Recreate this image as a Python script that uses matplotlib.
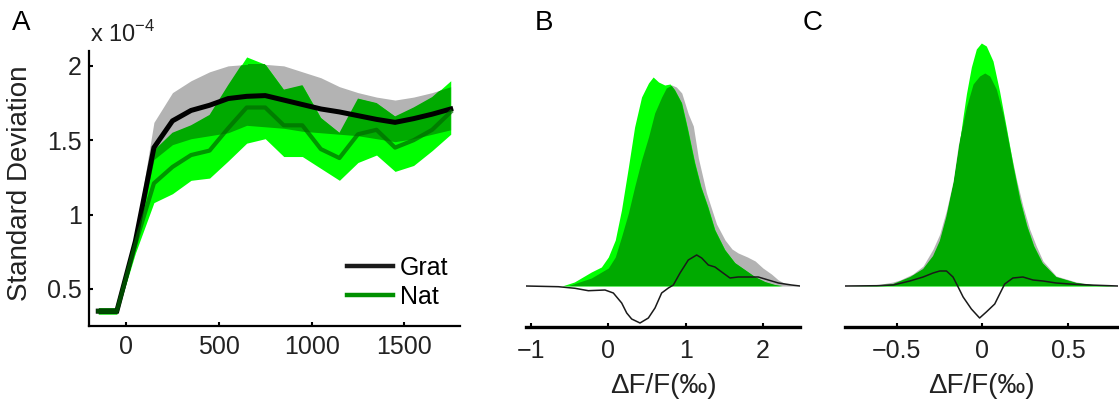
import matplotlib
matplotlib.use("Agg")
import matplotlib.pyplot as plt
import numpy as np
from matplotlib.lines import Line2D

plt.rcParams['font.family'] = ['Liberation Sans', 'DejaVu Sans']

# ---- panel A: standard deviation over time (x 1e-4)
t = [-150, -50, 50, 150, 250, 350, 450, 550, 650, 750, 850, 950, 1050, 1150, 1250, 1350, 1450, 1550, 1650, 1750]
grat_mean = [0.35, 0.35, 0.82, 1.45, 1.63, 1.70, 1.735, 1.78, 1.795, 1.80, 1.77, 1.74, 1.71, 1.69, 1.665, 1.64, 1.62, 1.645, 1.675, 1.71]
grat_hi = [0.37, 0.37, 0.86, 1.62, 1.82, 1.90, 1.96, 2.00, 2.01, 2.01, 2.00, 1.96, 1.92, 1.86, 1.82, 1.79, 1.77, 1.79, 1.82, 1.86]
grat_lo = [0.33, 0.33, 0.78, 1.37, 1.47, 1.51, 1.53, 1.55, 1.60, 1.59, 1.58, 1.56, 1.55, 1.54, 1.53, 1.51, 1.49, 1.51, 1.54, 1.57]
nat_mean = [0.35, 0.35, 0.80, 1.21, 1.32, 1.40, 1.43, 1.58, 1.72, 1.72, 1.60, 1.60, 1.44, 1.38, 1.54, 1.57, 1.45, 1.50, 1.57, 1.69]
nat_hi = [0.37, 0.37, 0.84, 1.43, 1.55, 1.60, 1.67, 1.87, 2.06, 2.01, 1.84, 1.87, 1.65, 1.55, 1.78, 1.75, 1.66, 1.72, 1.79, 1.90]
nat_lo = [0.33, 0.33, 0.74, 1.08, 1.14, 1.23, 1.245, 1.36, 1.48, 1.51, 1.39, 1.39, 1.31, 1.23, 1.35, 1.40, 1.29, 1.33, 1.43, 1.54]

# ---- panel B distributions
grat_b_x = [-1.065, -0.53, -0.22, 0.0, 0.09, 0.17, 0.26, 0.34, 0.43, 0.52, 0.60, 0.69, 0.75, 0.82, 0.88, 0.95, 1.035, 1.10, 1.165, 1.27, 1.40, 1.51, 1.60, 1.68, 1.80, 1.90, 2.00, 2.11, 2.20, 2.30, 2.40, 2.48]
grat_b_y = [0, 0, 8, 18, 29, 49, 73, 99, 126, 149, 173, 189, 198, 201, 199, 193, 172, 160, 128, 93, 62, 46, 37, 33, 29, 25, 18, 12, 6, 2, 0.5, 0]
nat_b_x = [-1.065, -0.60, -0.44, -0.22, -0.09, 0.0, 0.09, 0.17, 0.26, 0.34, 0.43, 0.52, 0.58, 0.65, 0.73, 0.80, 0.86, 0.95, 1.03, 1.12, 1.20, 1.29, 1.38, 1.51, 1.64, 1.77, 1.90, 2.03, 2.16, 2.25, 2.48]
nat_b_y = [0, 0, 4, 14, 19, 29, 46, 76, 119, 159, 189, 203, 209, 204, 201, 202, 196, 183, 156, 123, 99, 79, 56, 36, 23, 16, 9, 4, 1, 0, 0]
diff_b_x = [-1.065, -0.646, -0.431, -0.258, -0.043, 0.065, 0.173, 0.238, 0.302, 0.41, 0.518, 0.604, 0.69, 0.777, 0.841, 0.928, 1.035, 1.143, 1.208, 1.294, 1.38, 1.467, 1.574, 1.68, 1.811, 1.94, 2.07, 2.20, 2.37, 2.48]
diff_b_y = [0, -0.7, -2.3, -4.7, -4, -7, -17, -27, -33, -37, -32, -22, -7, -2, 1, 13, 26, 31, 28, 21, 19, 14, 8, 9, 9, 9, 6, 3, 1, 0]

# ---- panel C distributions
grat_c_x = [-0.8, -0.62, -0.52, -0.48, -0.405, -0.345, -0.287, -0.248, -0.21, -0.17, -0.141, -0.093, -0.054, -0.016, 0.014, 0.043, 0.081, 0.12, 0.159, 0.198, 0.236, 0.275, 0.314, 0.353, 0.43, 0.547, 0.663, 0.79]
grat_c_y = [0, 1, 4, 6, 12, 20, 37, 52, 75, 105, 140, 179, 202, 210, 213, 210, 197, 172, 139, 107, 80, 57, 40, 25, 10, 4, 1, 0]
nat_c_x = [-0.8, -0.62, -0.52, -0.42, -0.345, -0.287, -0.248, -0.21, -0.17, -0.14, -0.112, -0.093, -0.064, -0.035, -0.006, 0.023, 0.062, 0.10, 0.14, 0.18, 0.22, 0.26, 0.30, 0.35, 0.43, 0.55, 0.66, 0.79]
nat_c_y = [0, 0.5, 2, 9, 17, 30, 45, 69, 102, 135, 170, 192, 219, 237, 243, 240, 225, 195, 158, 120, 86, 60, 40, 23, 9, 3, 1, 0]
diff_c_x = [-0.8, -0.616, -0.519, -0.422, -0.345, -0.287, -0.248, -0.209, -0.171, -0.141, -0.112, -0.064, -0.016, 0.023, 0.072, 0.101, 0.13, 0.178, 0.236, 0.295, 0.353, 0.43, 0.508, 0.624, 0.79]
diff_c_y = [0, 0.3, 1, 5, 9, 13, 15, 15, 9, -1, -11, -23, -32, -26, -18, -8, 2, 8, 9, 6, 5, 3, 2, 1, 0]

GRAY = '#b3b3b3'
BRIGHT = '#00ff00'
DARK = '#00aa00'
TXT = '#222222'

W, H = 1119, 405
fig = plt.figure(figsize=(W / 100, H / 100), dpi=100)


def box(l, r, b, t):
    return [l / W, 1 - b / H, (r - l) / W, (b - t) / H]


def overlap_fill(ax, x1, lo1, hi1, x2, lo2, hi2):
    # gray band, green band, and the overlap of both in dark green
    ax.fill_between(x1, lo1, hi1, color=GRAY, lw=0)
    pn = ax.fill_between(x2, lo2, hi2, color=BRIGHT, lw=0)
    ov = ax.fill_between(x1, lo1, hi1, color=DARK, lw=0)
    ov.set_clip_path(pn.get_paths()[0], ax.transData)


# ---------------- A
axA = fig.add_axes(box(89, 460, 326, 51))
overlap_fill(axA, t, grat_lo, grat_hi, t, nat_lo, nat_hi)
axA.plot(t, grat_mean, color='black', lw=3.6, solid_joinstyle='miter')
axA.plot(t, nat_mean, color='#006a00', lw=3.0, alpha=0.7)
axA.set_xlim(-200, 1800)
axA.set_ylim(0.25, 2.1)
axA.set_xticks([0, 500, 1000, 1500])
axA.set_yticks([0.5, 1, 1.5, 2])
axA.set_yticklabels(['0.5', '1', '1.5', '2'])
for s in ['top', 'right']:
    axA.spines[s].set_visible(False)
for s in ['left', 'bottom']:
    axA.spines[s].set_linewidth(1.6)
axA.tick_params(direction='in', length=3, width=1.5, labelsize=18, labelcolor=TXT)
axA.tick_params(axis='x', pad=6.5)
axA.tick_params(axis='y', pad=5)
fig.text(20 / W, 1 - 183 / H, 'Standard Deviation', rotation=90, va='center', ha='center',
         fontsize=20, color=TXT)
fig.text(90 / W, 1 - 42 / H, r'x 10$^{\mathregular{-4}}$', fontsize=17, va='baseline', color=TXT)
handles = [Line2D([], [], color='#1a1a1a', lw=3.2), Line2D([], [], color='#009000', lw=3.2)]
axA.legend(handles, ['Grat', 'Nat'], frameon=False, fontsize=18, loc='upper left',
           bbox_to_anchor=(347 / W, 1 - 256 / H), bbox_transform=fig.transFigure,
           borderpad=0, borderaxespad=0, handlelength=1.85, handletextpad=0.25,
           labelspacing=0.2)

# ---------------- B and C
def dist_axes(pos, xlim, ticks, gx, gy, nx, ny, dx, dy):
    ax = fig.add_axes(pos)
    overlap_fill(ax, gx, 0, gy, nx, 0, ny)
    ax.plot(dx, dy, color='#1a1a1a', lw=1.1)
    ax.set_xlim(*xlim)
    ax.set_ylim(-41, 246)
    ax.set_xticks(ticks)
    ax.set_yticks([])
    for s in ['top', 'right', 'left']:
        ax.spines[s].set_visible(False)
    ax.spines['bottom'].set_linewidth(2.4)
    ax.tick_params(axis='x', direction='in', length=3, width=1.5, labelsize=18,
                   labelcolor=TXT, pad=9)
    ax.set_xlabel('ΔF/F(‰)', fontsize=20, color=TXT, labelpad=6.5)
    return ax


axB = dist_axes(box(526, 800, 327, 40), (-1.065, 2.48), [-1, 0, 1, 2],
                grat_b_x, grat_b_y, nat_b_x, nat_b_y, diff_b_x, diff_b_y)
axC = dist_axes(box(845, 1118, 327, 40), (-0.8, 0.79), [-0.5, 0, 0.5],
                grat_c_x, grat_c_y, nat_c_x, nat_c_y, diff_c_x, diff_c_y)
axC.set_xticklabels(['\u22120.5', '0', '0.5'])

for lab, x in [('A', 12), ('B', 535), ('C', 803)]:
    fig.text(x / W, 1 - 30 / H, lab, fontsize=20, va='baseline', color='black')

fig.savefig('out.png', dpi=100)
